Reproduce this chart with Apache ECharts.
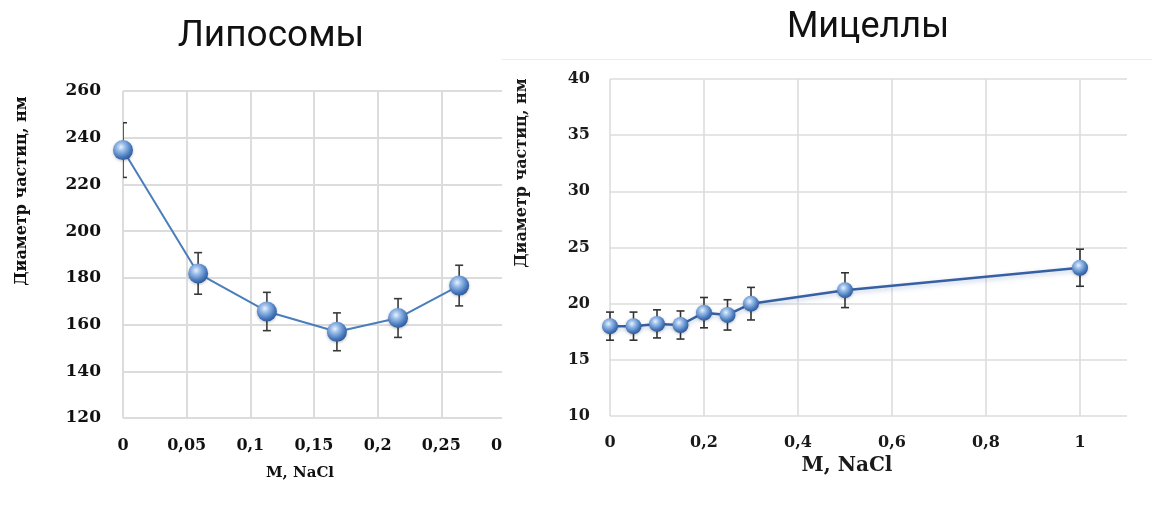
<!DOCTYPE html>
<html>
<head>
<meta charset="utf-8">
<script src="https://cdn.jsdelivr.net/npm/echarts@6/dist/echarts.min.js"></script>
<style>
  html, body { margin: 0; padding: 0; background: #fff; }
  #wrap { position: relative; width: 1152px; height: 508px; overflow: hidden; }
  #leftClip { position: absolute; left: 0; top: 0; width: 502px; height: 508px; overflow: hidden; }
  #lipo { position: absolute; left: 0; top: 0; width: 540px; height: 508px; }
  #mice { position: absolute; left: 502px; top: 0; width: 650px; height: 508px; }
  #sep { position: absolute; left: 502px; top: 59px; width: 650px; height: 1px; background: #ececec; }
</style>
</head>
<body>
<div id="wrap">
  <div id="leftClip"><div id="lipo"></div></div>
  <div id="mice"></div>
  <div id="sep"></div>
</div>
<script>
// Липосомы
var lipoX = [0, 0.059, 0.113, 0.168, 0.216, 0.264];
var lipoY = [234.7, 181.9, 165.6, 156.9, 162.8, 176.7];
var lipoErr = [11.7, 8.9, 8.2, 8.1, 8.3, 8.7];
var lipoXLabels = ['0', '0,05', '0,1', '0,15', '0,2', '0,25', '0,3'];

// Мицеллы
var miceX = [0, 0.05, 0.1, 0.15, 0.2, 0.25, 0.3, 0.5, 1];
var miceY = [18.0, 18.0, 18.2, 18.1, 19.2, 19.0, 20.0, 21.2, 23.2];
var miceErr = [1.25, 1.25, 1.25, 1.25, 1.35, 1.35, 1.45, 1.55, 1.65];
var miceXLabels = ['0', '0,2', '0,4', '0,6', '0,8', '1'];

var yName = 'Диаметр частиц, нм';
var xName = 'M, NaCl';

var serif = 'DejaVu Serif';

function sphere() {
    return {
        type: 'radial', x: 0.4, y: 0.35, r: 0.68,
        colorStops: [
            { offset: 0, color: '#eaf2fc' },
            { offset: 0.3, color: '#99bdea' },
            { offset: 0.75, color: '#4677bb' },
            { offset: 1, color: '#2b5894' }
        ]
    };
}

function pairs(xs, ys) {
    return xs.map(function (x, i) { return [x, ys[i]]; });
}

function errData(xs, ys, es) {
    return xs.map(function (x, i) { return [x, ys[i] - es[i], ys[i] + es[i]]; });
}

function errRender(cap, color, width) {
    return function (params, api) {
        var top = api.coord([api.value(0), api.value(2)]);
        var bot = api.coord([api.value(0), api.value(1)]);
        var st = { stroke: color, lineWidth: width };
        return {
            type: 'group',
            children: [
                { type: 'line', shape: { x1: top[0], y1: top[1], x2: bot[0], y2: bot[1] }, style: st },
                { type: 'line', shape: { x1: top[0] - cap, y1: top[1], x2: top[0] + cap, y2: top[1] }, style: st },
                { type: 'line', shape: { x1: bot[0] - cap, y1: bot[1], x2: bot[0] + cap, y2: bot[1] }, style: st }
            ]
        };
    };
}

var lipoChart = echarts.init(document.getElementById('lipo'));
lipoChart.setOption({
    animation: false,
    title: {
        text: 'Липосомы', left: 266, top: 13, textAlign: 'center',
        textStyle: { fontFamily: 'Roboto', fontWeight: 'normal', fontSize: 37, color: '#111' }
    },
    grid: { left: 123, top: 91, width: 382, height: 327 },
    xAxis: {
        type: 'value', min: 0, max: 0.3, interval: 0.05,
        axisLine: { show: false }, axisTick: { show: false },
        splitLine: { show: true, lineStyle: { color: '#dcdcdc', width: 2 } },
        axisLabel: {
            margin: 20, fontFamily: serif, fontWeight: 'bold', fontSize: 16, color: '#111',
            formatter: function (v) { return lipoXLabels[Math.round(v / 0.05)]; }
        }
    },
    yAxis: {
        type: 'value', min: 120, max: 260, interval: 20,
        axisLine: { show: false }, axisTick: { show: false },
        splitLine: { show: true, lineStyle: { color: '#dcdcdc', width: 2 } },
        axisLabel: { margin: 22, fontFamily: serif, fontWeight: 'bold', fontSize: 17, color: '#111' }
    },
    graphic: [
        {
            type: 'text', x: 22, y: 191, rotation: Math.PI / 2,
            style: { text: yName, fontFamily: serif, fontWeight: 'bold', fontSize: 16, fill: '#111', align: 'center', verticalAlign: 'middle' }
        },
        {
            type: 'text', x: 300, y: 473,
            style: { text: xName, fontFamily: serif, fontWeight: 'bold', fontSize: 15, fill: '#111', align: 'center', verticalAlign: 'middle' }
        }
    ],
    series: [
        {
            type: 'custom', clip: true, z: 1,
            renderItem: errRender(4, '#3a3a3a', 1.6),
            data: errData(lipoX, lipoY, lipoErr)
        },
        {
            type: 'line', z: 3,
            data: pairs(lipoX, lipoY),
            symbol: 'circle', symbolSize: 20,
            lineStyle: { color: '#4a7dbb', width: 2 },
            itemStyle: { color: sphere(), shadowBlur: 3, shadowColor: 'rgba(0,0,0,0.25)', shadowOffsetY: 1 }
        }
    ]
});

var miceChart = echarts.init(document.getElementById('mice'));
var gridCol = '#dcdcdc';
miceChart.setOption({
    animation: false,
    title: {
        text: 'Мицеллы', left: 361, top: 5, textAlign: 'center',
        textStyle: { fontFamily: 'Roboto', fontWeight: 'normal', fontSize: 36, color: '#111' }
    },
    grid: { left: 108, top: 79, width: 517, height: 337 },
    xAxis: {
        type: 'value', min: 0, max: 1.1, interval: 0.2,
        axisLine: { show: false }, axisTick: { show: false },
        splitLine: { show: true, lineStyle: { color: [gridCol, gridCol, gridCol, gridCol, gridCol, gridCol, 'rgba(0,0,0,0)'], width: 1.6 } },
        axisLabel: {
            margin: 19, showMaxLabel: false, fontFamily: serif, fontWeight: 'bold', fontSize: 16, color: '#1a1a1a',
            formatter: function (v) { return miceXLabels[Math.round(v / 0.2)] || ''; }
        }
    },
    yAxis: {
        type: 'value', min: 10, max: 40, interval: 5,
        axisLine: { show: false }, axisTick: { show: false },
        splitLine: { show: true, lineStyle: { color: gridCol, width: 1.6 } },
        axisLabel: { margin: 20, fontFamily: serif, fontWeight: 'bold', fontSize: 16, color: '#1a1a1a' }
    },
    graphic: [
        {
            type: 'text', x: 20, y: 173, rotation: Math.PI / 2,
            style: { text: yName, fontFamily: serif, fontWeight: 'bold', fontSize: 16, fill: '#1a1a1a', align: 'center', verticalAlign: 'middle' }
        },
        {
            type: 'text', x: 345, y: 466,
            style: { text: xName, fontFamily: serif, fontWeight: 'bold', fontSize: 20, fill: '#1a1a1a', align: 'center', verticalAlign: 'middle' }
        }
    ],
    series: [
        {
            type: 'custom', z: 1,
            renderItem: errRender(4, '#333', 1.6),
            data: errData(miceX, miceY, miceErr)
        },
        {
            type: 'line', z: 3,
            data: pairs(miceX, miceY),
            symbol: 'circle', symbolSize: 16,
            lineStyle: { color: '#3660a3', width: 2.5, shadowBlur: 5, shadowColor: 'rgba(60,100,170,0.35)', shadowOffsetY: 2 },
            itemStyle: { color: sphere(), shadowBlur: 3, shadowColor: 'rgba(0,0,0,0.25)', shadowOffsetY: 1 }
        }
    ]
});
</script>
</body>
</html>
